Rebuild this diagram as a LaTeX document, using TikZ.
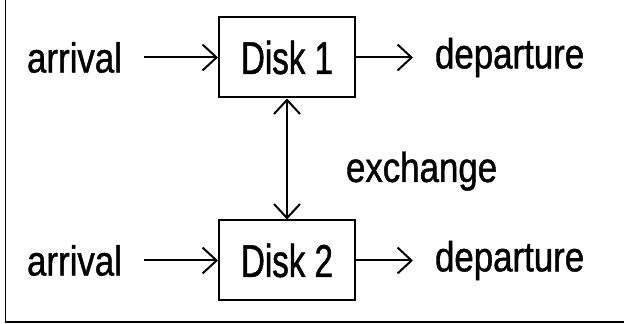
\documentclass[tikz,border=0pt]{standalone}
\usepackage{fontspec}
\setmainfont{Liberation Sans}
\newfontfamily\labelfont[FakeStretch=0.83, FakeBold=1]{Liberation Sans}
\newfontfamily\diskfont[FakeStretch=0.72, FakeBold=1]{Liberation Sans}
\usetikzlibrary{positioning, arrows.meta}

\begin{document}
\begin{tikzpicture}[>={Straight Barb[length=14pt, width=26pt]}, line width=2pt,
    lbl/.style={inner xsep=21pt, inner ysep=0pt, font=\labelfont\fontsize{42}{48}\selectfont},
    disk/.style={rectangle, draw, minimum width=136pt, minimum height=80pt, font=\diskfont\fontsize{46}{52}\selectfont}]
    \useasboundingbox (0,0) rectangle (624pt,324pt);
    % open frame, left and bottom edge only
    \draw[line width=1.6pt] (5.5pt,324pt) |- (624pt,2pt);

    \node (disk1) [disk] at (287pt,266.5pt) {Disk 1};
    \node (disk2) [disk, below=121pt of disk1] {Disk 2};

    \node (arr1) [lbl, left=74pt of disk1] {arrival};
    \node (arr2) [lbl, left=74pt of disk2] {arrival};
    \node (dep1) [lbl, right=57pt of disk1] {departure};
    \node (dep2) [lbl, right=57pt of disk2] {departure};

    \draw[->] (arr1) -- (disk1);
    \draw[->] (disk1) -- (dep1);
    \draw[->] (arr2) -- (disk2);
    \draw[->] (disk2) -- (dep2);

    % swapping between the two disks
    \draw[<->] (disk1) -- node[lbl, right=37pt, pos=0.6] {exchange} (disk2);
\end{tikzpicture}
\end{document}
